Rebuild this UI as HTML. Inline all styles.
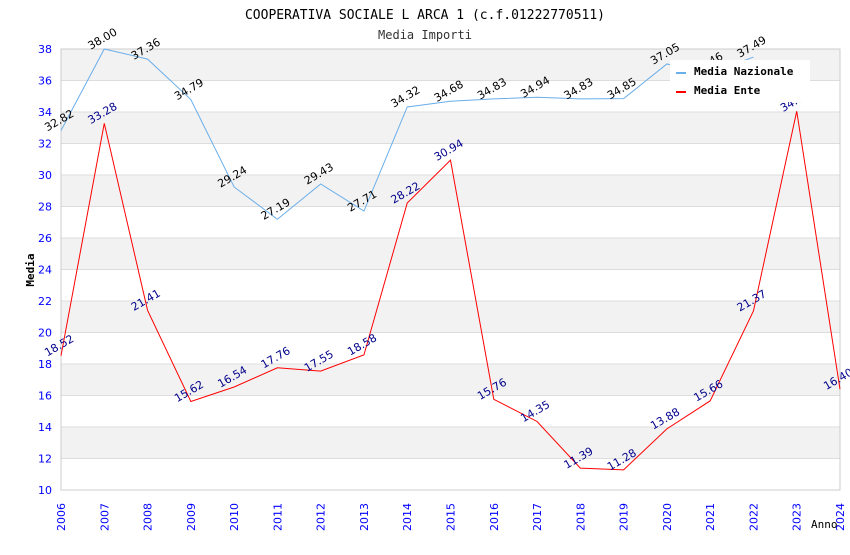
<!DOCTYPE html>
<html><head><meta charset="utf-8"><style>
body{margin:0;background:#fff;}
svg text{font-family:"DejaVu Sans","Liberation Sans",sans-serif;}
.mono{font-family:"DejaVu Sans Mono","Liberation Mono",monospace;}
</style></head><body>
<svg id="c" width="850" height="550" xmlns="http://www.w3.org/2000/svg">
<text class="mono" x="425" y="19" text-anchor="middle" font-size="13" fill="#000">COOPERATIVA SOCIALE L ARCA 1 (c.f.01222770511)</text>
<text class="mono" x="425" y="39" text-anchor="middle" font-size="12" fill="#333">Media Importi</text>
<g id="grid"></g><g id="axes"></g><g id="lines"></g><g id="labels"></g>
<g id="legend">
<rect x="670" y="60" width="140" height="42" fill="#fff"/>
<line x1="676" y1="73" x2="686" y2="73" stroke="#6aaeea" stroke-width="2"/>
<text class="mono" x="694" y="75" font-size="11" font-weight="bold">Media Nazionale</text>
<line x1="676" y1="92" x2="686" y2="92" stroke="#f00" stroke-width="2"/>
<text class="mono" x="694" y="94" font-size="11" font-weight="bold">Media Ente</text>
</g>
<text class="mono" x="34" y="270" font-size="11" font-weight="bold" transform="rotate(-90 34 270)" text-anchor="middle">Media</text>
<text class="mono" x="811" y="528" font-size="11">Anno</text>
</svg>
<script>
const years=[2006,2007,2008,2009,2010,2011,2012,2013,2014,2015,2016,2017,2018,2019,2020,2021,2022,2023,2024];
const nazionale=[32.82,38.00,37.36,34.79,29.24,27.19,29.43,27.71,34.32,34.68,34.83,34.94,34.83,34.85,37.05,36.46,37.49,null,null];
const ente=[18.52,33.28,21.41,15.62,16.54,17.76,17.55,18.58,28.22,30.94,15.76,14.35,11.39,11.28,13.88,15.66,21.37,34.05,16.40];
const yTicks=[10,12,14,16,18,20,22,24,26,28,30,32,34,36,38];
const NS="http://www.w3.org/2000/svg";
const x0=61,x1=840,yTop=49,yBot=490,yMin=10,yMax=38;
const X=i=>x0+(x1-x0)*(years[i]-years[0])/(years[years.length-1]-years[0]);
const Y=v=>yBot-(v-yMin)*(yBot-yTop)/(yMax-yMin);
function mk(t,a,p){const e=document.createElementNS(NS,t);for(const k in a)e.setAttribute(k,a[k]);p.appendChild(e);return e;}
const grid=document.getElementById('grid'),axes=document.getElementById('axes'),lines=document.getElementById('lines'),labels=document.getElementById('labels');
for(let k=0;k<yTicks.length-1;k++){
 const a=yTicks[k],b=yTicks[k+1];
 const r=mk('rect',{x:x0,y:Y(b),width:x1-x0,height:Y(a)-Y(b),fill:(k%2===1)?'#f2f2f2':'#fff'},grid);
 
 
}
yTicks.forEach(v=>{
 mk('line',{x1:x0,x2:x1,y1:Y(v),y2:Y(v),stroke:'#ddd'},grid);
 const t=mk('text',{x:x0-9,y:Y(v)+4,'text-anchor':'end','font-size':11,fill:'#00f'},axes);t.textContent=v;
 
 
});
mk('rect',{x:x0,y:yTop,width:x1-x0,height:yBot-yTop,fill:'none',stroke:'#ccc'},grid);
years.forEach((yr,i)=>{
 const t=mk('text',{x:X(i)+4,y:531,'font-size':11,fill:'#00f','text-anchor':'start',transform:`rotate(-90 ${X(i)+4} 531)`},axes);t.textContent=yr;
 
 
});
function series(vals,color,lc,name){
 let d='';vals.forEach((v,i)=>{if(v==null)return;d+=(d?'L':'M')+X(i)+','+Y(v);});
 const p=mk('path',{d:d,fill:'none',stroke:color,'stroke-width':1},lines);
 
 
 vals.forEach((v,i)=>{if(v==null)return;
  const x=X(i),y=Y(v)-7;
  const t=mk('text',{x:x,y:y,'font-size':11,fill:lc,'text-anchor':'middle',transform:`rotate(-30 ${x} ${y})`},labels);
  t.textContent=v.toFixed(2);
  
  
 });
}
series(nazionale,'#6aaeea','#000','nazionale');
series(ente,'#f00','#00008b','ente');
document.getElementById('c').appendChild(document.getElementById('legend'));
</script>
</body></html>
